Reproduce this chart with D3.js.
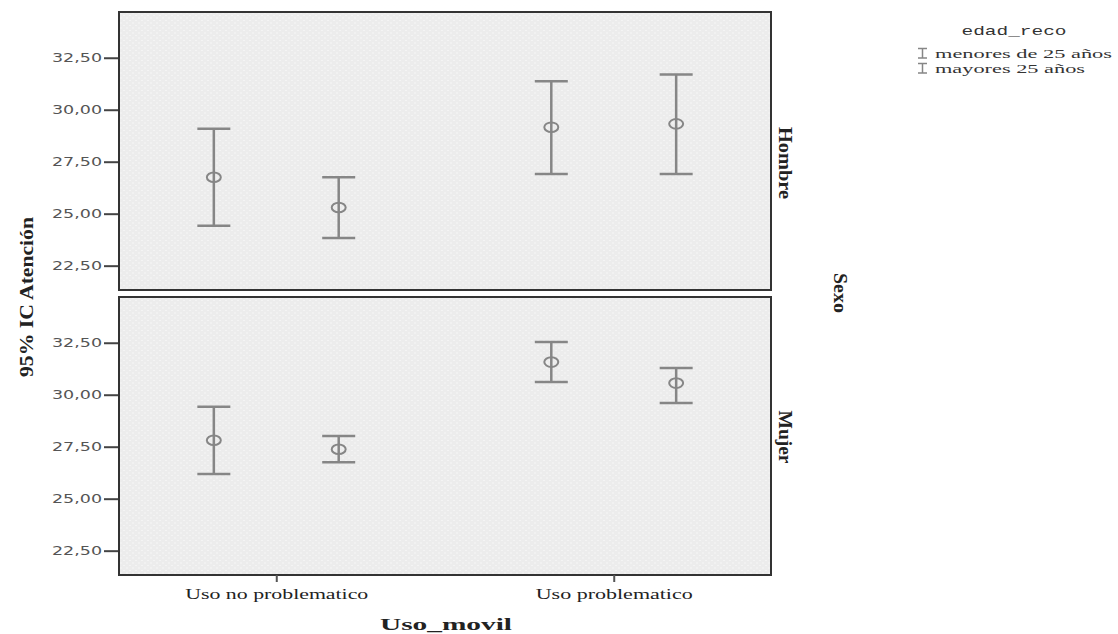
<!DOCTYPE html>
<meta charset="utf-8">
<style>
  body { margin: 0; background: #fff; }
  .eje text { font-family: "DejaVu Sans", sans-serif; font-size: 12px; fill: #555; }
  .eje line { stroke: #444; stroke-width: 2; }
  .ejex text { font-family: "Liberation Serif", serif; font-size: 14px; fill: #222; }
  .ejex line { stroke: #555; stroke-width: 2; }
  .titulo { font-family: "Liberation Serif", serif; font-weight: bold; fill: #222; }
</style>
<body>
<svg width="1118" height="634"></svg>
<script src="https://d3js.org/d3.v7.min.js"></script>
<script>
// categorias
var usoMovil = ["Uso no problematico", "Uso problematico"];
var edadReco = ["menores de 25 años", "mayores 25 años"];
var sexo = ["Hombre", "Mujer"];
var yTicks = [22.5, 25, 27.5, 30, 32.5];

// [inferior, media, superior] del IC 95%, orden: usoMovil x edadReco
var hombreIC = [[24.42, 26.75, 29.09], [23.83, 25.30, 26.75], [26.91, 29.16, 31.37], [26.91, 29.32, 31.70]];
var mujerIC  = [[26.19, 27.81, 29.42], [26.75, 27.38, 28.01], [30.61, 31.57, 32.53], [29.60, 30.56, 31.28]];

var margin = { left: 119, right: 347 },
    width = 1118, panelH = 278,
    panelTop = [12, 297];

var locale = d3.formatLocale({ decimal: ",", thousands: ".", grouping: [3], currency: ["", "€"] });
var fmt = locale.format(".2f");

var svg = d3.select("svg");

// trama de puntos del fondo
var pat = svg.append("defs").append("pattern")
    .attr("id", "puntos").attr("width", 6).attr("height", 5)
    .attr("patternUnits", "userSpaceOnUse");
pat.append("rect").attr("width", 6).attr("height", 5).attr("fill", "#ececec");
pat.append("circle").attr("cx", 1).attr("cy", 1).attr("r", 0.7).attr("fill", "#fafafa");
pat.append("circle").attr("cx", 4).attr("cy", 3.5).attr("r", 0.7).attr("fill", "#fafafa");

var x = d3.scalePoint().domain(usoMovil).range([margin.left, width - margin.right]).padding(0.466);
var xSub = d3.scalePoint().domain(edadReco).range([-0.185 * x.step(), 0.185 * x.step()]);
var y = d3.scaleLinear().domain([21.33, 34.7]).range([panelH, 0]);

function estirar(sel, len) {
    sel.attr("textLength", len).attr("lengthAdjust", "spacingAndGlyphs");
}

var gris = "#868686";

[hombreIC, mujerIC].forEach(function (datos, p) {
    var g = svg.append("g").attr("transform", "translate(0," + panelTop[p] + ")");

    g.append("rect")
        .attr("x", x.range()[0]).attr("y", 0)
        .attr("width", x.range()[1] - x.range()[0]).attr("height", panelH)
        .attr("fill", "url(#puntos)");

    var filas = datos.map(function (d, i) {
        return { uso: usoMovil[Math.floor(i / 2)], edad: edadReco[i % 2], lo: d[0], media: d[1], hi: d[2] };
    });

    var barra = g.selectAll(".barra").data(filas).enter().append("g")
        .attr("class", "barra")
        .attr("transform", function (d) { return "translate(" + (x(d.uso) + xSub(d.edad)) + ",0)"; })
        .attr("stroke", gris).attr("stroke-width", 2.5).attr("fill", "none");

    barra.append("line")
        .attr("y1", function (d) { return y(d.lo); })
        .attr("y2", function (d) { return y(d.hi); });
    barra.append("line").attr("x1", -16.5).attr("x2", 16.5)
        .attr("y1", function (d) { return y(d.hi); }).attr("y2", function (d) { return y(d.hi); });
    barra.append("line").attr("x1", -16.5).attr("x2", 16.5)
        .attr("y1", function (d) { return y(d.lo); }).attr("y2", function (d) { return y(d.lo); });
    barra.append("ellipse")
        .attr("cy", function (d) { return y(d.media); })
        .attr("rx", 7).attr("ry", 4.8).attr("stroke-width", 2);

    var ejeY = g.append("g").attr("class", "eje")
        .attr("transform", "translate(" + margin.left + ",0)")
        .call(d3.axisLeft(y).tickValues(yTicks).tickFormat(fmt).tickSize(15).tickPadding(2));
    ejeY.select(".domain").remove();
    ejeY.selectAll("text").call(estirar, 50);

    g.append("rect")
        .attr("x", x.range()[0]).attr("y", 0)
        .attr("width", x.range()[1] - x.range()[0]).attr("height", panelH)
        .attr("fill", "none").attr("stroke", "#333").attr("stroke-width", 2);

    // etiqueta del panel
    g.append("text").attr("class", "titulo")
        .attr("transform", "translate(779," + (p === 0 ? 151 : 140) + ") rotate(90)")
        .attr("text-anchor", "middle").attr("font-size", 19)
        .text(sexo[p])
        .call(estirar, p === 0 ? 72 : 53);
});

// eje X
var ejeX = svg.append("g").attr("class", "ejex")
    .attr("transform", "translate(0," + (panelTop[1] + panelH) + ")")
    .call(d3.axisBottom(x).tickSize(7).tickPadding(4));
ejeX.select(".domain").remove();
ejeX.selectAll("text").attr("dy", "0.9em").each(function (d) {
    d3.select(this).call(estirar, d === usoMovil[0] ? 183 : 157);
});

svg.append("text").attr("class", "titulo")
    .attr("x", 446).attr("y", 630).attr("text-anchor", "middle")
    .attr("font-size", 17).text("Uso_movil").call(estirar, 132);

svg.append("text").attr("class", "titulo")
    .attr("transform", "translate(33,297) rotate(-90)")
    .attr("text-anchor", "middle").attr("font-size", 18)
    .text("95% IC Atención").call(estirar, 160);

svg.append("text").attr("class", "titulo")
    .attr("transform", "translate(834,293) rotate(90)")
    .attr("text-anchor", "middle").attr("font-size", 18)
    .text("Sexo").call(estirar, 40);

// leyenda
var ley = svg.append("g");
ley.append("text")
    .attr("x", 1014).attr("y", 35).attr("text-anchor", "middle")
    .attr("font-family", "Liberation Mono, monospace").attr("font-size", 13).attr("fill", "#333")
    .text("edad_reco").call(estirar, 105);

var item = ley.selectAll(".item").data(edadReco).enter().append("g")
    .attr("class", "item")
    .attr("transform", function (d, i) { return "translate(918," + (58 + i * 15) + ")"; });
item.append("path")
    .attr("d", "M0,-9.5H9M0,0H9M4.5,-9.5V0")
    .attr("stroke", gris).attr("stroke-width", 1.5).attr("fill", "none");
item.append("text")
    .attr("x", 17).attr("font-family", "Liberation Serif, serif").attr("font-size", 13).attr("fill", "#333")
    .text(function (d) { return d; })
    .each(function (d, i) { d3.select(this).call(estirar, i === 0 ? 177 : 150); });
</script>
</body>
